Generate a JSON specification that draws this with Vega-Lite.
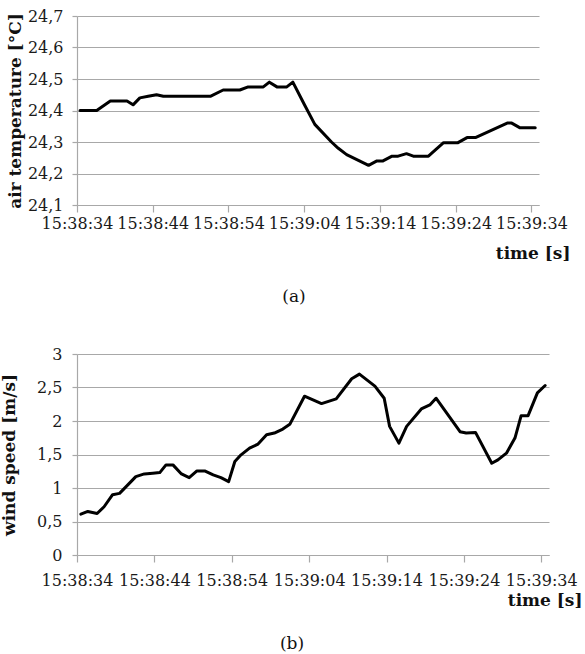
{
  "$schema": "https://vega.github.io/schema/vega-lite/v6.json",
  "background": "white",
  "padding": {"left": 0, "top": 8, "right": 2, "bottom": 2},
  "spacing": 41,
  "config": {
    "view": {"stroke": null},
    "axis": {
      "labelFont": "DejaVu Serif",
      "labelFontSize": 16,
      "labelColor": "#1a1a1a",
      "titleFont": "DejaVu Serif",
      "titleFontSize": 17,
      "titleFontWeight": "bold",
      "titleColor": "#111111",
      "gridColor": "#a8a8a8",
      "domainColor": "#a8a8a8",
      "tickColor": "#a8a8a8",
      "gridWidth": 1.2,
      "domainWidth": 1.2,
      "tickWidth": 1.2
    },
    "title": {"font": "DejaVu Serif", "fontSize": 17, "fontWeight": "normal", "color": "#111111"}
  },
  "datasets": {
    "temp": [
      {"t": 0.4, "v": 24.40}, {"t": 2.6, "v": 24.40}, {"t": 4.4, "v": 24.43}, {"t": 6.6, "v": 24.43},
      {"t": 7.4, "v": 24.418}, {"t": 8.3, "v": 24.44}, {"t": 9.4, "v": 24.445}, {"t": 10.5, "v": 24.45},
      {"t": 11.4, "v": 24.445}, {"t": 17.6, "v": 24.445}, {"t": 19.3, "v": 24.465}, {"t": 21.5, "v": 24.465},
      {"t": 22.6, "v": 24.475}, {"t": 24.6, "v": 24.475}, {"t": 25.4, "v": 24.49}, {"t": 26.4, "v": 24.475},
      {"t": 27.7, "v": 24.475}, {"t": 28.5, "v": 24.49}, {"t": 30.0, "v": 24.42}, {"t": 31.4, "v": 24.356},
      {"t": 33.6, "v": 24.30}, {"t": 34.5, "v": 24.28}, {"t": 35.6, "v": 24.26}, {"t": 38.5, "v": 24.226},
      {"t": 39.6, "v": 24.24}, {"t": 40.4, "v": 24.24}, {"t": 41.6, "v": 24.255}, {"t": 42.4, "v": 24.255},
      {"t": 43.5, "v": 24.263}, {"t": 44.4, "v": 24.255}, {"t": 46.4, "v": 24.255}, {"t": 48.4, "v": 24.298},
      {"t": 50.3, "v": 24.298}, {"t": 51.5, "v": 24.314}, {"t": 52.6, "v": 24.314}, {"t": 56.8, "v": 24.36},
      {"t": 57.4, "v": 24.36}, {"t": 58.5, "v": 24.345}, {"t": 60.5, "v": 24.345}
    ],
    "wind": [
      {"t": 0.5, "v": 0.61}, {"t": 1.4, "v": 0.65}, {"t": 2.6, "v": 0.62}, {"t": 3.5, "v": 0.72},
      {"t": 4.6, "v": 0.90}, {"t": 5.5, "v": 0.92}, {"t": 6.6, "v": 1.05}, {"t": 7.6, "v": 1.17},
      {"t": 8.7, "v": 1.21}, {"t": 9.8, "v": 1.22}, {"t": 10.7, "v": 1.23}, {"t": 11.5, "v": 1.345},
      {"t": 12.4, "v": 1.345}, {"t": 13.5, "v": 1.21}, {"t": 14.5, "v": 1.155}, {"t": 15.5, "v": 1.255},
      {"t": 16.5, "v": 1.255}, {"t": 17.6, "v": 1.195}, {"t": 18.6, "v": 1.155}, {"t": 19.6, "v": 1.095},
      {"t": 20.4, "v": 1.395}, {"t": 21.2, "v": 1.495}, {"t": 22.3, "v": 1.595}, {"t": 23.4, "v": 1.655},
      {"t": 24.5, "v": 1.795}, {"t": 25.5, "v": 1.82}, {"t": 26.6, "v": 1.88}, {"t": 27.5, "v": 1.95},
      {"t": 29.4, "v": 2.37}, {"t": 31.6, "v": 2.26}, {"t": 33.5, "v": 2.33}, {"t": 35.5, "v": 2.63},
      {"t": 36.5, "v": 2.70}, {"t": 38.5, "v": 2.52}, {"t": 39.7, "v": 2.34}, {"t": 40.4, "v": 1.92},
      {"t": 41.6, "v": 1.67}, {"t": 42.6, "v": 1.92}, {"t": 44.5, "v": 2.18}, {"t": 45.6, "v": 2.24},
      {"t": 46.4, "v": 2.34}, {"t": 49.5, "v": 1.84}, {"t": 50.3, "v": 1.82}, {"t": 51.5, "v": 1.83},
      {"t": 53.6, "v": 1.37}, {"t": 54.4, "v": 1.42}, {"t": 55.5, "v": 1.52}, {"t": 56.6, "v": 1.745},
      {"t": 57.4, "v": 2.08}, {"t": 58.3, "v": 2.08}, {"t": 59.5, "v": 2.42}, {"t": 60.5, "v": 2.53}
    ]
  },
  "vconcat": [
    {
      "width": 462,
      "height": 189,
      "title": {"text": "(a)", "orient": "bottom", "anchor": "middle", "offset": 28, "dx": -14},
      "data": {"name": "temp"},
      "mark": {"type": "line", "color": "black", "strokeWidth": 3, "strokeJoin": "round", "strokeCap": "round"},
      "encoding": {
        "x": {
          "field": "t", "type": "quantitative",
          "scale": {"domain": [0, 61], "nice": false, "zero": false},
          "axis": {
            "title": "time [s]", "grid": false, "values": [0, 10, 20, 30, 40, 50, 60],
            "labelExpr": "timeFormat(datetime(2021, 0, 1, 15, 38, 34 + datum.value), '%H:%M:%S')",
            "tickSize": 7, "labelPadding": 3, "labelFlush": false, "labelOverlap": false,
            "titleAlign": "right", "titleAnchor": null, "titleX": 493, "titleY": 48, "titleBaseline": "middle"
          }
        },
        "y": {
          "field": "v", "type": "quantitative",
          "scale": {"domain": [24.1, 24.7], "nice": false, "zero": false},
          "axis": {
            "title": "air temperature [°C]", "values": [24.1, 24.2, 24.3, 24.4, 24.5, 24.6, 24.7],
            "labelExpr": "replace(format(datum.value, '.1f'), '.', ',')",
            "tickSize": 5, "labelPadding": 9, "titlePadding": 3
          }
        }
      }
    },
    {
      "width": 472,
      "height": 201,
      "title": {"text": "(b)", "orient": "bottom", "anchor": "middle", "offset": 28, "dx": -21},
      "data": {"name": "wind"},
      "mark": {"type": "line", "color": "black", "strokeWidth": 3, "strokeJoin": "round", "strokeCap": "round"},
      "encoding": {
        "x": {
          "field": "t", "type": "quantitative",
          "scale": {"domain": [0, 61], "nice": false, "zero": false},
          "axis": {
            "title": "time [s]", "grid": false, "values": [0, 10, 20, 30, 40, 50, 60],
            "labelExpr": "timeFormat(datetime(2021, 0, 1, 15, 38, 34 + datum.value), '%H:%M:%S')",
            "tickSize": 7, "labelPadding": 10, "labelFlush": false, "labelOverlap": false,
            "titleAlign": "right", "titleAnchor": null, "titleX": 505, "titleY": 45, "titleBaseline": "middle"
          }
        },
        "y": {
          "field": "v", "type": "quantitative",
          "scale": {"domain": [0, 3], "nice": false, "zero": false},
          "axis": {
            "title": "wind speed [m/s]", "values": [0, 0.5, 1, 1.5, 2, 2.5, 3],
            "labelExpr": "replace(toString(datum.value), '.', ',')",
            "tickSize": 5, "labelPadding": 10, "titlePadding": 18
          }
        }
      }
    }
  ]
}
